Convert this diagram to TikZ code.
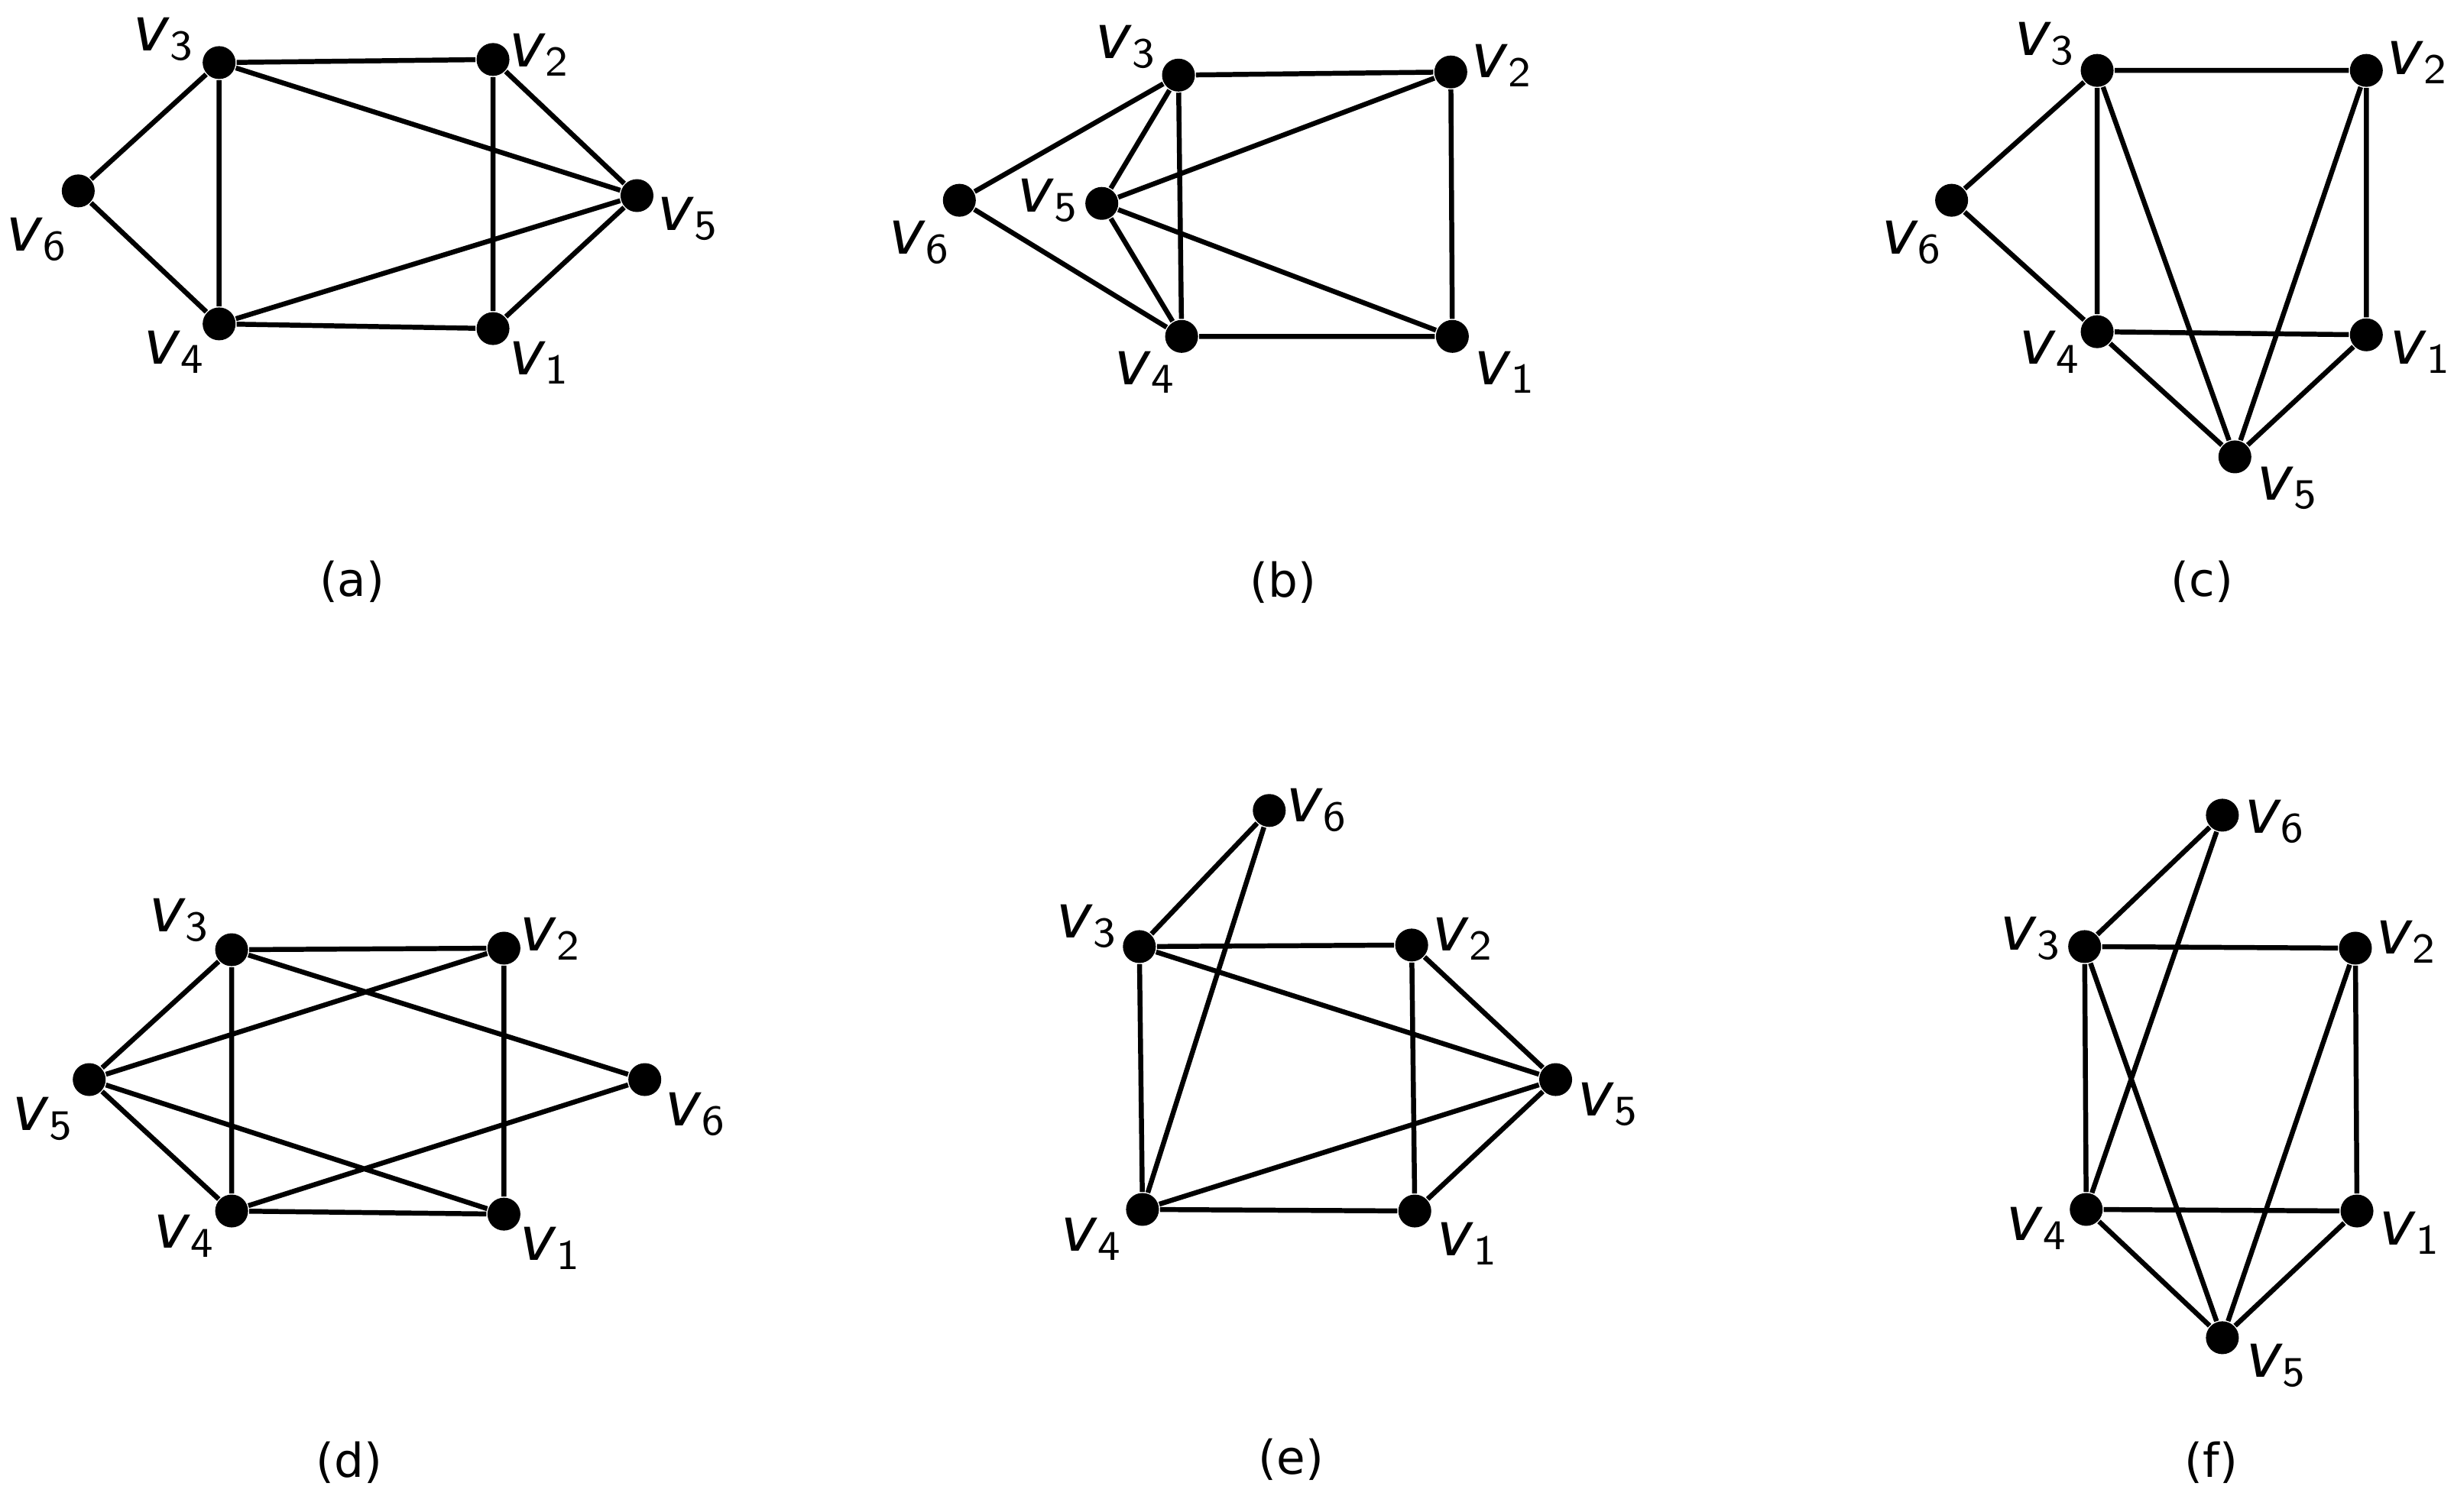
\documentclass[tikz,border=0pt]{standalone}
\usepackage{fontspec}
\setmainfont{DejaVu Sans}
\begin{document}
\begin{tikzpicture}[x=0.01cm,y=-0.01cm,
  vtx/.style={circle,fill=black,inner sep=0pt,minimum size=0.21cm},
  lab/.style={font=\fontsize{11}{13}\selectfont},
  captxt/.style={font=\fontsize{8.5}{10}\selectfont},
  edge/.style={line width=0.9pt}]
\useasboundingbox (0,0) rectangle (1568,966);
\newcommand{\vv}[1]{\textit{v}$_{\mathsf{#1}}$}
% (a)
\node[vtx] (a3) at (140,40) {}; \node[vtx] (a2) at (315,38) {};
\node[vtx] (a5) at (407,125) {}; \node[vtx] (a6) at (50,122) {};
\node[vtx] (a4) at (140,207) {}; \node[vtx] (a1) at (315,210) {};
\draw[edge] (a3)--(a2) (a3)--(a5) (a3)--(a6) (a3)--(a4) (a2)--(a5) (a2)--(a1) (a6)--(a4) (a4)--(a5) (a4)--(a1) (a1)--(a5);
\node[lab] (la3) at (105,25) {\vv3}; \node[lab] (la2) at (345,35) {\vv2};
\node[lab] (la5) at (440,140) {\vv5}; \node[lab] (la6) at (24,153) {\vv6};
\node[lab] (la4) at (112,225) {\vv4}; \node[lab] (la1) at (345,232) {\vv1};
\node[captxt] (ca) at (225,372) {(a)};
% (b)
\node[vtx] (b3) at (753,48) {}; \node[vtx] (b2) at (927,46) {};
\node[vtx] (b6) at (613,128) {}; \node[vtx] (b5) at (704,130) {};
\node[vtx] (b4) at (755,215) {}; \node[vtx] (b1) at (928,215) {};
\draw[edge] (b3)--(b2) (b3)--(b6) (b3)--(b5) (b3)--(b4) (b5)--(b2) (b5)--(b4) (b5)--(b1) (b6)--(b4) (b2)--(b1) (b4)--(b1);
\node[lab] (lb3) at (720,30) {\vv3}; \node[lab] (lb2) at (960,42) {\vv2};
\node[lab] (lb6) at (588,155) {\vv6}; \node[lab] (lb5) at (670,128) {\vv5};
\node[lab] (lb4) at (732,238) {\vv4}; \node[lab] (lb1) at (962,238) {\vv1};
\node[captxt] (cb) at (820,372) {(b)};
% (c)
\node[vtx] (c3) at (1340,45) {}; \node[vtx] (c2) at (1512,45) {};
\node[vtx] (c6) at (1247,128) {}; \node[vtx] (c4) at (1340,212) {};
\node[vtx] (c1) at (1512,214) {}; \node[vtx] (c5) at (1428,292) {};
\draw[edge] (c3)--(c2) (c3)--(c6) (c3)--(c4) (c3)--(c5) (c6)--(c4) (c4)--(c1) (c4)--(c5) (c2)--(c1) (c2)--(c5) (c1)--(c5);
\node[lab] (lc3) at (1307,28) {\vv3}; \node[lab] (lc2) at (1545,40) {\vv2};
\node[lab] (lc6) at (1222,155) {\vv6}; \node[lab] (lc4) at (1310,225) {\vv4};
\node[lab] (lc1) at (1547,225) {\vv1}; \node[lab] (lc5) at (1462,312) {\vv5};
\node[captxt] (cc) at (1407,372) {(c)};
% (d)
\node[vtx] (d3) at (148,607) {}; \node[vtx] (d2) at (322,606) {};
\node[vtx] (d5) at (57,690) {}; \node[vtx] (d6) at (412,690) {};
\node[vtx] (d4) at (148,774) {}; \node[vtx] (d1) at (322,776) {};
\draw[edge] (d3)--(d2) (d3)--(d5) (d3)--(d4) (d3)--(d6) (d5)--(d2) (d5)--(d4) (d5)--(d1) (d4)--(d1) (d4)--(d6) (d2)--(d1);
\node[lab] (ld3) at (115,588) {\vv3}; \node[lab] (ld2) at (352,600) {\vv2};
\node[lab] (ld5) at (28,715) {\vv5}; \node[lab] (ld6) at (445,712) {\vv6};
\node[lab] (ld4) at (118,790) {\vv4}; \node[lab] (ld1) at (352,798) {\vv1};
\node[captxt] (cd) at (223,935) {(d)};
% (e)
\node[vtx] (e6) at (811,518) {}; \node[vtx] (e3) at (728,605) {};
\node[vtx] (e2) at (902,604) {}; \node[vtx] (e5) at (994,690) {};
\node[vtx] (e4) at (730,773) {}; \node[vtx] (e1) at (904,774) {};
\draw[edge] (e6)--(e3) (e6)--(e4) (e3)--(e2) (e3)--(e5) (e3)--(e4) (e2)--(e5) (e2)--(e1) (e4)--(e5) (e4)--(e1) (e1)--(e5);
\node[lab] (le6) at (842,518) {\vv6}; \node[lab] (le3) at (695,592) {\vv3};
\node[lab] (le2) at (935,600) {\vv2}; \node[lab] (le5) at (1028,706) {\vv5};
\node[lab] (le4) at (698,792) {\vv4}; \node[lab] (le1) at (938,795) {\vv1};
\node[captxt] (ce) at (825,933) {(e)};
% (f)
\node[vtx] (f6) at (1420,521) {}; \node[vtx] (f3) at (1332,605) {};
\node[vtx] (f2) at (1505,606) {}; \node[vtx] (f4) at (1333,773) {};
\node[vtx] (f1) at (1506,774) {}; \node[vtx] (f5) at (1420,855) {};
\draw[edge] (f3)--(f6) (f6)--(f4) (f3)--(f2) (f3)--(f4) (f3)--(f5) (f2)--(f1) (f2)--(f5) (f4)--(f1) (f4)--(f5) (f1)--(f5);
\node[lab] (lf6) at (1454,525) {\vv6}; \node[lab] (lf3) at (1298,600) {\vv3};
\node[lab] (lf2) at (1538,602) {\vv2}; \node[lab] (lf4) at (1302,785) {\vv4};
\node[lab] (lf1) at (1540,788) {\vv1}; \node[lab] (lf5) at (1455,873) {\vv5};
\node[captxt] (cf) at (1413,935) {(f)};
\end{tikzpicture}
\end{document}
